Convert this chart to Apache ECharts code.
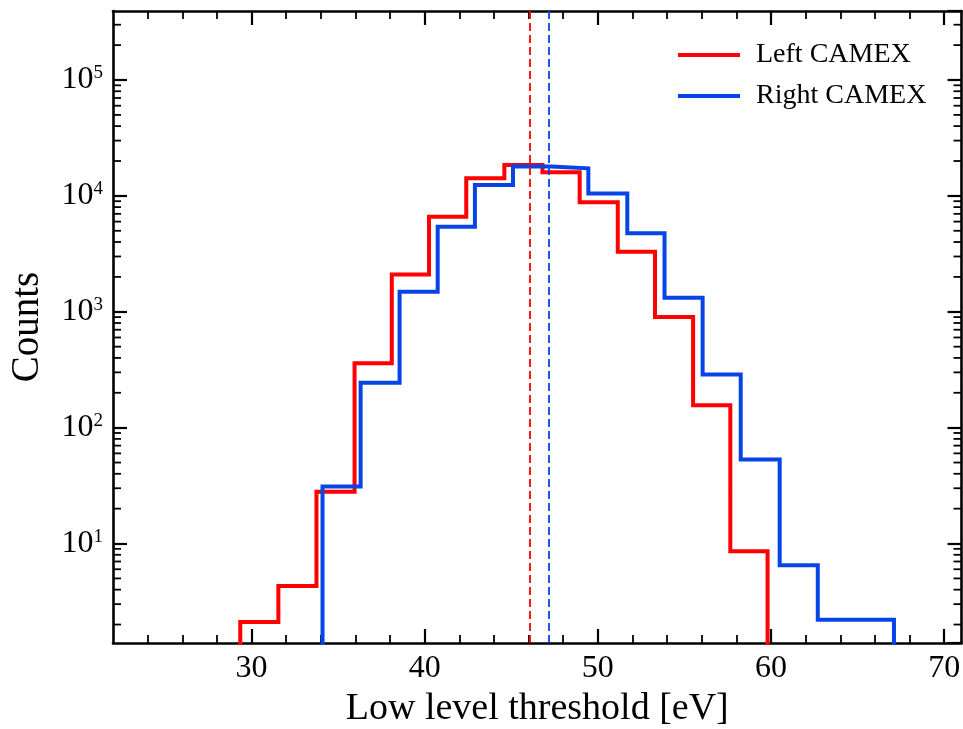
<!DOCTYPE html>
<html>
<head>
<meta charset="utf-8">
<script src="https://cdn.jsdelivr.net/npm/echarts@6/dist/echarts.min.js"></script>
<style>
html,body{margin:0;padding:0;background:#fff;}
#chart{width:963px;height:729px;}
</style>
</head>
<body>
<div id="chart"></div>
<script>
// ---- data ----
const seriesNames = ['Left CAMEX', 'Right CAMEX'];
const redEdges = [29.35, 31.55, 33.75, 35.95, 38.1, 40.25, 42.4, 44.6, 46.8, 48.95, 51.15, 53.3, 55.5, 57.65, 59.8];
const redCounts = [2.1, 4.3, 28, 360, 2100, 6600, 14200, 18500, 16000, 8800, 3300, 900, 156, 8.6];
const blueEdges = [34.1, 36.3, 38.55, 40.75, 42.9, 45.1, 47.3, 49.45, 51.7, 53.85, 56.05, 58.25, 60.5, 62.7, 64.9, 67.1];
const blueCounts = [31, 244, 1490, 5420, 12400, 17900, 17300, 10500, 4750, 1320, 288, 53, 6.5, 2.2, 2.2];
const meanValues = [46.06, 47.16];
const xMajorTicks = [30, 40, 50, 60, 70];
const xMinorTicks = [24, 26, 28, 32, 34, 36, 38, 42, 44, 46, 48, 52, 54, 56, 58, 62, 64, 66, 68];
const yMinorTicks = [2, 3, 4, 5, 6, 7, 8, 9, 20, 30, 40, 50, 60, 70, 80, 90,
  200, 300, 400, 500, 600, 700, 800, 900, 2000, 3000, 4000, 5000, 6000, 7000, 8000, 9000,
  20000, 30000, 40000, 50000, 60000, 70000, 80000, 90000, 200000, 300000];
const xMin = 22, xMax = 71;
const yMin = 1.386, yMax = 394000;
const floorValue = 1;

const RED = '#ff0000';
const BLUE = '#0644e6';
const FONT = '"Liberation Serif", "Times New Roman", serif';

function stepPoints(edges, counts) {
  const pts = [[edges[0], floorValue]];
  for (let i = 0; i < counts.length; i++) {
    pts.push([edges[i], counts[i]]);
    pts.push([edges[i + 1], counts[i]]);
  }
  pts.push([edges[edges.length - 1], floorValue]);
  return pts;
}

const chart = echarts.init(document.getElementById('chart'), null, {renderer: 'canvas'});

const axisLineStyle = {color: '#000', width: 2.6};

function xAxisDef(pos, ticks, major, withLabels) {
  return {
    type: 'value', min: xMin, max: xMax, position: pos,
    axisLine: {show: major, onZero: false, lineStyle: axisLineStyle},
    axisTick: {show: true, inside: true, length: major ? 14 : 8, customValues: ticks,
      lineStyle: {color: '#000', width: major ? 2.2 : 1.8}},
    axisLabel: withLabels ? {show: true, customValues: ticks, fontSize: 32, fontFamily: FONT, color: '#000', margin: 10}
                          : {show: false},
    splitLine: {show: false},
    name: withLabels ? 'Low level threshold [eV]' : '',
    nameLocation: 'middle', nameGap: 47,
    nameTextStyle: {fontSize: 38, fontFamily: FONT, color: '#000'}
  };
}

function yAxisDef(pos, withLabels) {
  return {
    type: 'log', logBase: 10, min: yMin, max: yMax, position: pos,
    axisLine: {show: true, lineStyle: axisLineStyle},
    axisTick: {show: true, inside: true, length: 14, lineStyle: {color: '#000', width: 2.2}},
    axisLabel: withLabels ? {
      show: true, margin: 10, showMinLabel: false, showMaxLabel: false,
      formatter: function (v) {
        const e = Math.round(Math.log10(v));
        if (Math.abs(Math.log10(v) - e) > 1e-6) return '';
        return '{b|10}{s|' + e + '}';
      },
      rich: {
        b: {fontSize: 32, fontFamily: FONT, color: '#000', lineHeight: 32},
        s: {fontSize: 19, fontFamily: FONT, color: '#000', verticalAlign: 'top', lineHeight: 19}
      }
    } : {show: false},
    splitLine: {show: false},
    minorTick: {show: false},
    name: withLabels ? 'Counts' : '',
    nameLocation: 'middle', nameGap: 66, nameRotate: 90,
    nameTextStyle: {fontSize: 39, fontFamily: FONT, color: '#000'}
  };
}

const option = {
  backgroundColor: '#fff',
  animation: false,
  grid: {left: 113, top: 11, right: 1.5, bottom: 86, containLabel: false, outerBoundsMode: 'none'},
  xAxis: [
    xAxisDef('bottom', xMajorTicks, true, true),
    xAxisDef('bottom', xMinorTicks, false, false),
    xAxisDef('top', xMajorTicks, true, false),
    xAxisDef('top', xMinorTicks, false, false)
  ],
  yAxis: [yAxisDef('left', true), yAxisDef('right', false)],
  legend: {
    data: seriesNames, orient: 'vertical', left: 673, top: 36,
    icon: 'rect', itemWidth: 62, itemHeight: 4, itemGap: 13,
    textStyle: {fontSize: 28, fontFamily: FONT, color: '#000', padding: [0, 0, 0, 11]}
  },
  series: [
    {
      name: seriesNames[0], type: 'line', xAxisIndex: 0, yAxisIndex: 0,
      data: stepPoints(redEdges, redCounts), showSymbol: false, symbol: 'none',
      clip: true, color: RED, lineStyle: {color: RED, width: 4, join: 'miter'},
      markLine: {
        silent: true, symbol: ['none', 'none'], label: {show: false},
        lineStyle: {color: RED, width: 1.8, type: [8, 4]},
        data: [{xAxis: meanValues[0]}]
      }
    },
    {
      name: seriesNames[1], type: 'line', xAxisIndex: 0, yAxisIndex: 0,
      data: stepPoints(blueEdges, blueCounts), showSymbol: false, symbol: 'none',
      clip: true, color: BLUE, lineStyle: {color: BLUE, width: 4, join: 'miter'},
      markLine: {
        silent: true, symbol: ['none', 'none'], label: {show: false},
        lineStyle: {color: BLUE, width: 1.8, type: [8, 4]},
        data: [{xAxis: meanValues[1]}]
      }
    },
    {
      name: 'yminor', type: 'custom', xAxisIndex: 0, yAxisIndex: 0, silent: true, clip: false,
      data: yMinorTicks.map(v => [xMin, v]),
      renderItem: function (params, api) {
        const cs = params.coordSys;
        const y = api.coord([xMin, api.value(1)])[1];
        const st = {stroke: '#000', lineWidth: 1.8};
        return {
          type: 'group',
          children: [
            {type: 'line', shape: {x1: cs.x, y1: y, x2: cs.x + 8, y2: y}, style: st},
            {type: 'line', shape: {x1: cs.x + cs.width - 8, y1: y, x2: cs.x + cs.width, y2: y}, style: st}
          ]
        };
      }
    }
  ]
};
chart.setOption(option);
</script>
</body>
</html>
